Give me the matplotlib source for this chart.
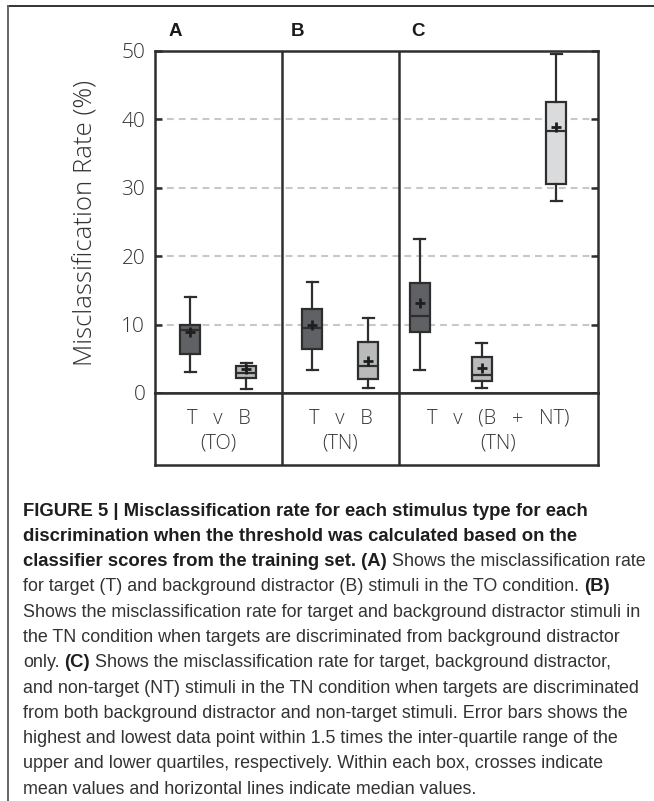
import matplotlib
matplotlib.use('Agg')
import matplotlib.pyplot as plt
from matplotlib import font_manager
from matplotlib.lines import Line2D
from matplotlib.transforms import blended_transform_factory

# box statistics (misclassification rate, %)
box_names = ['T (TO)', 'B (TO)', 'T (TN)', 'B (TN)', 'T (TN, C)', 'B (TN, C)', 'NT (TN, C)']
whis_lo = [3.0, 0.6, 3.3, 0.8, 3.4, 0.8, 28.1]
q1 = [5.7, 2.2, 6.4, 2.0, 8.9, 1.75, 30.5]
median = [9.2, 2.9, 9.5, 3.9, 11.2, 2.7, 38.3]
q3 = [10.0, 4.0, 12.3, 7.4, 16.1, 5.2, 42.5]
whis_hi = [14.1, 4.4, 16.3, 10.9, 22.5, 7.3, 49.5]
means = [8.9, 3.5, 9.9, 4.75, 13.1, 3.6, 38.9]

panel_letters = ['A', 'B', 'C']
panel_conditions = ['T   v   B\n(TO)', 'T   v   B\n(TN)', 'T   v   (B   +   NT)\n(TN)']
yticks = [0, 10, 20, 30, 40, 50]

caption_lines = [
    [('FIGURE 5 | Misclassification rate for each stimulus type for each', True)],
    [('discrimination when the threshold was calculated based on the', True)],
    [('classifier scores from the training set. (A)', True),
     ('Shows the misclassification rate', False)],
    [('for target (T) and background distractor (B) stimuli in the TO condition.', False),
     ('(B)', True)],
    [('Shows the misclassification rate for target and background distractor stimuli in', False)],
    [('the TN condition when targets are discriminated from background distractor', False)],
    [('only.', False), ('(C)', True),
     ('Shows the misclassification rate for target, background distractor,', False)],
    [('and non-target (NT) stimuli in the TN condition when targets are discriminated', False)],
    [('from both background distractor and non-target stimuli. Error bars shows the', False)],
    [('highest and lowest data point within 1.5 times the inter-quartile range of the', False)],
    [('upper and lower quartiles, respectively. Within each box, crosses indicate', False)],
    [('mean values and horizontal lines indicate median values.', False)],
]

# layout (pixel based x units inside the axes)
W, H = 654, 801
box_pos = [35, 91, 157, 213, 265, 327, 401]
dividers = [127, 244]
panel_span = [(0, 127), (127, 244), (244, 443)]
fills = ['#606164', '#b9babc', '#606164', '#b9babc', '#606164', '#b9babc', '#dadbdd']
ink = '#2e2e2e'
lw = 1.6

names = {f.name for f in font_manager.fontManager.ttflist}
axis_font = 'Open Sans' if 'Open Sans' in names else 'DejaVu Sans'
cap_font = 'Liberation Sans Narrow' if 'Liberation Sans Narrow' in names else 'Liberation Sans'

fig = plt.figure(figsize=(W / 100, H / 100), dpi=100)
ax = fig.add_axes([155 / W, 1 - 393 / H, 443 / W, 342 / H])
tab = fig.add_axes([155 / W, 1 - 465 / H, 443 / W, 72 / H])

# dashed grid lines
for yv in yticks[1:-1]:
    ax.axhline(yv, color='#c8c8c8', lw=1.5, ls=(0, (3.3, 2.4)), zorder=0)

stats = []
for i in range(len(box_names)):
    stats.append(dict(label=box_names[i], whislo=whis_lo[i], q1=q1[i], med=median[i],
                      q3=q3[i], whishi=whis_hi[i], mean=means[i], fliers=[]))

bp = ax.bxp(stats, positions=box_pos, widths=20, capwidths=11, patch_artist=True,
            showmeans=True, showfliers=False,
            boxprops=dict(edgecolor=ink, linewidth=lw),
            whiskerprops=dict(color=ink, linewidth=lw),
            capprops=dict(color=ink, linewidth=lw),
            medianprops=dict(color=ink, linewidth=lw),
            meanprops=dict(marker='+', markeredgecolor='#1e1e1e', markersize=7,
                           markeredgewidth=2))
for patch, c in zip(bp['boxes'], fills):
    patch.set_facecolor(c)
    patch.set_zorder(2)

for d in dividers:
    ax.axvline(d, color=ink, lw=1.8, zorder=3)
    tab.axvline(d, color=ink, lw=1.8)

ax.set_xlim(0, 443)
ax.set_ylim(0, 50)
ax.set_yticks(yticks)
ax.set_xticks([])
ax.tick_params(axis='y', direction='in', length=5, width=1.8, left=True, right=True,
               labelsize=15, labelcolor='#333333', color=ink, pad=7)
for lab in ax.get_yticklabels():
    lab.set_family(axis_font)
    lab.set_fontweight('light')
for sp in ax.spines.values():
    sp.set_linewidth(1.8)
    sp.set_color(ink)

trans = blended_transform_factory(ax.transData, ax.transAxes)
for (x0, x1), letter, dx in zip(panel_span, panel_letters, [20, 15, 19]):
    ax.text(x0 + dx, 1.056, letter, transform=trans, ha='center', va='center',
            fontsize=13.5, fontweight='bold', family='Liberation Sans', color='#1a1a1a')

fig.text(86 / W, 1 - 223 / H, 'Misclassification Rate (%)', rotation=90,
         ha='center', va='center', fontsize=18.5, family=axis_font,
         fontweight='light', color='#333333')

# condition table under the boxes
tab.set_xlim(0, 443)
tab.set_ylim(0, 1)
tab.set_xticks([])
tab.set_yticks([])
for sp in tab.spines.values():
    sp.set_linewidth(1.8)
    sp.set_color(ink)
for (x0, x1), cond in zip(panel_span, panel_conditions):
    tab.text((x0 + x1) / 2, 0.47, cond, ha='center', va='center', fontsize=14.5,
             family=axis_font, fontweight='light', color='#333333', linespacing=1.35)

# outer frame
fig.add_artist(Line2D([8 / W, 1], [1 - 6 / H, 1 - 6 / H], color='#333333', lw=1.4))
fig.add_artist(Line2D([8 / W, 8 / W], [0, 1 - 6 / H], color='#666666', lw=1.4))

# caption
renderer = fig.canvas.get_renderer()
def text_w(s, bold, size):
    prop = font_manager.FontProperties(family=cap_font, size=size,
                                       weight='bold' if bold else 'normal')
    return renderer.get_text_width_height_descent(s, prop, ismath=False)[0]

size_n = 10 * 620 / text_w(caption_lines[4][0][0], False, 10)
size_b = 10 * 568 / text_w(caption_lines[0][0][0], True, 10)
x_start = 23
for i, line in enumerate(caption_lines):
    y_base = 515.5 + i * 25.3
    x = x_start
    for s, bold in line:
        size = size_b if bold else size_n
        fig.text(x / W, 1 - y_base / H, s, ha='left', va='baseline', fontsize=size,
                 family=cap_font, fontweight='bold' if bold else 'normal',
                 color='#1e1e1e' if bold else '#333333')
        space = text_w('a a', bold, size) - text_w('aa', bold, size)
        x += text_w(s, bold, size) + space

fig.savefig('out.png', dpi=100)
